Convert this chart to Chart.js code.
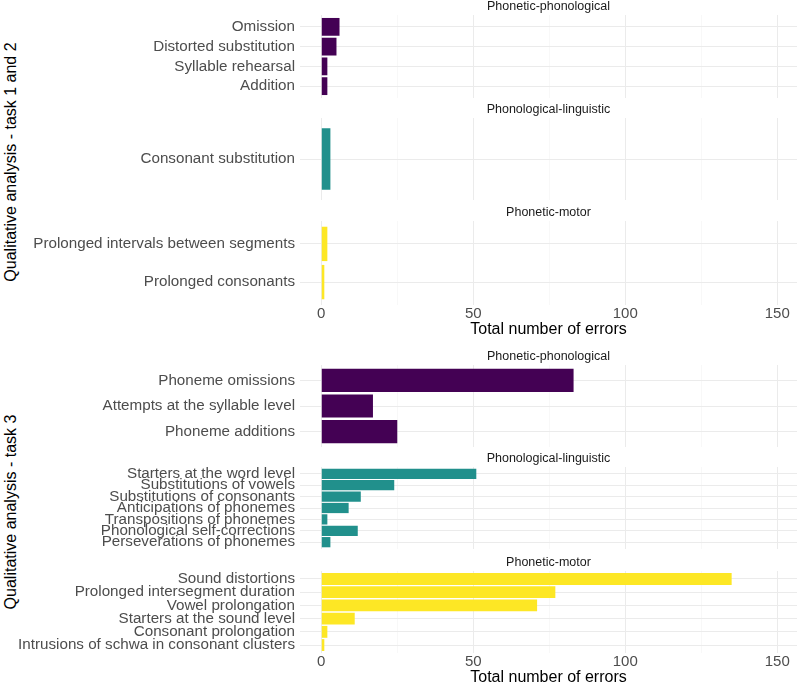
<!DOCTYPE html>
<html>
<head>
<meta charset="utf-8">
<script src="https://cdn.jsdelivr.net/npm/chart.js@4/dist/chart.umd.min.js"></script>
<style>
  body { margin: 0; background: #fff; }
  #wrap { position: relative; width: 800px; height: 684px; overflow: hidden; font-family: "Liberation Sans", Arial, sans-serif; }
  #wrap canvas { position: absolute; left: 0; }
  .ytitle { position: absolute; width: 400px; height: 20px; line-height: 20px; text-align: center;
            font-size: 16px; color: #000; white-space: nowrap; transform: rotate(-90deg); }
</style>
</head>
<body>
<div id="wrap">
  <div class="ytitle" style="left:-189px; top:152px;">Qualitative analysis - task 1 and 2</div>
  <div class="ytitle" style="left:-189px; top:502px;">Qualitative analysis - task 3</div>
</div>
<script>
// === Data: task 1 and 2 ===
const t12PhonPhonLabels = ["Omission", "Distorted substitution", "Syllable rehearsal", "Addition"];
const t12PhonPhonValues = [6, 5, 2, 2];
const t12PhonLingLabels = ["Consonant substitution"];
const t12PhonLingValues = [3];
const t12PhonMotorLabels = ["Prolonged intervals between segments", "Prolonged consonants"];
const t12PhonMotorValues = [2, 1];

// === Data: task 3 ===
const t3PhonPhonLabels = ["Phoneme omissions", "Attempts at the syllable level", "Phoneme additions"];
const t3PhonPhonValues = [83, 17, 25];
const t3PhonLingLabels = ["Starters at the word level", "Substitutions of vowels", "Substitutions of consonants",
  "Anticipations of phonemes", "Transpositions of phonemes", "Phonological self-corrections", "Perseverations of phonemes"];
const t3PhonLingValues = [51, 24, 13, 9, 2, 12, 3];
const t3PhonMotorLabels = ["Sound distortions", "Prolonged intersegment duration", "Vowel prolongation",
  "Starters at the sound level", "Consonant prolongation", "Intrusions of schwa in consonant clusters"];
const t3PhonMotorValues = [135, 77, 71, 11, 2, 1];

// x axis ticks
const xMajorTicks = [0, 50, 100, 150];
const xMinorTicks = [25, 75, 125];
const xTitle = "Total number of errors";

const COL_PHON = "#440154", COL_LING = "#21908C", COL_MOTOR = "#FDE725";
const FONT = "'Liberation Sans', Arial, sans-serif";

// facet layout: top = panel top, h = panel height
const facets = [
  { strip: "Phonetic-phonological", labels: t12PhonPhonLabels, values: t12PhonPhonValues, color: COL_PHON, top: 15, h: 83 },
  { strip: "Phonological-linguistic", labels: t12PhonLingLabels, values: t12PhonLingValues, color: COL_LING, top: 118, h: 82 },
  { strip: "Phonetic-motor", labels: t12PhonMotorLabels, values: t12PhonMotorValues, color: COL_MOTOR, top: 221, h: 84, xaxis: true },
  { strip: "Phonetic-phonological", labels: t3PhonPhonLabels, values: t3PhonPhonValues, color: COL_PHON, top: 365, h: 82 },
  { strip: "Phonological-linguistic", labels: t3PhonLingLabels, values: t3PhonLingValues, color: COL_LING, top: 467, h: 82 },
  { strip: "Phonetic-motor", labels: t3PhonMotorLabels, values: t3PhonMotorValues, color: COL_MOTOR, top: 571, h: 82, xaxis: true }
];

const STRIP_H = 18, AXIS_H = 34;
const wrap = document.getElementById("wrap");

// facet strip label, centred over the panel
const stripPlugin = {
  id: "strip",
  afterDraw(chart, args, opts) {
    const { ctx, chartArea } = chart;
    ctx.save();
    ctx.font = "12.5px " + FONT;
    ctx.fillStyle = "#1A1A1A";
    ctx.textAlign = "center";
    ctx.textBaseline = "middle";
    ctx.fillText(opts.text, (chartArea.left + chartArea.right) / 2, chartArea.top - 8);
    ctx.restore();
  }
};

facets.forEach(function (f) {
  const n = f.labels.length;
  const canvas = document.createElement("canvas");
  const height = STRIP_H + f.h + (f.xaxis ? AXIS_H : 0);
  canvas.width = 800;
  canvas.height = height;
  canvas.style.top = (f.top - STRIP_H) + "px";
  wrap.appendChild(canvas);

  new Chart(canvas.getContext("2d"), {
    type: "bar",
    plugins: [stripPlugin],
    data: {
      datasets: [{
        data: f.values.map((v, i) => ({ x: v, y: i })),
        backgroundColor: f.color,
        borderWidth: 0,
        categoryPercentage: 1,
        barPercentage: n > 1 ? 0.9 : 0.9 / (n + 0.2)
      }]
    },
    options: {
      indexAxis: "y",
      responsive: false,
      animation: false,
      layout: { padding: { left: 0, right: 3, top: STRIP_H, bottom: 0 } },
      plugins: {
        legend: { display: false },
        tooltip: { enabled: false },
        strip: { text: f.strip }
      },
      scales: {
        x: {
          type: "linear", bounds: "data", min: -7, max: 156.5,
          afterBuildTicks: axis => { axis.ticks = xMajorTicks.concat(xMinorTicks).sort((a, b) => a - b).map(v => ({ value: v })); },
          afterFit: axis => {
            axis.height = f.xaxis ? AXIS_H : 0;
            axis.paddingLeft = axis.paddingRight = 0;
          },
          border: { display: false },
          grid: {
            drawTicks: false,
            color: c => xMajorTicks.includes(c.tick.value) ? "#EBEBEB" : "#F3F3F3",
            lineWidth: c => xMajorTicks.includes(c.tick.value) ? 1 : 0.6
          },
          ticks: {
            display: !!f.xaxis, padding: 0, color: "#4D4D4D", autoSkip: false, maxRotation: 0,
            font: { family: FONT, size: 15 },
            callback: v => xMajorTicks.includes(v) ? String(v) : ""
          },
          title: {
            display: !!f.xaxis, text: xTitle, color: "#000", padding: 0,
            font: { family: FONT, size: 16 }
          }
        },
        y: {
          type: "linear", bounds: "data", reverse: true, offset: false, min: -0.6, max: n - 0.4,
          afterBuildTicks: axis => { axis.ticks = f.labels.map((l, i) => ({ value: i })); },
          afterFit: axis => {
            axis.width = 300;
            axis.paddingTop = axis.paddingBottom = 0;
          },
          border: { display: false },
          grid: { drawTicks: false, offset: false, color: "#EBEBEB", lineWidth: 1 },
          ticks: {
            padding: 5, color: "#4D4D4D", autoSkip: false,
            font: { family: FONT, size: 15.2 },
            callback: v => f.labels[v]
          }
        }
      }
    }
  });
});
</script>
</body>
</html>
